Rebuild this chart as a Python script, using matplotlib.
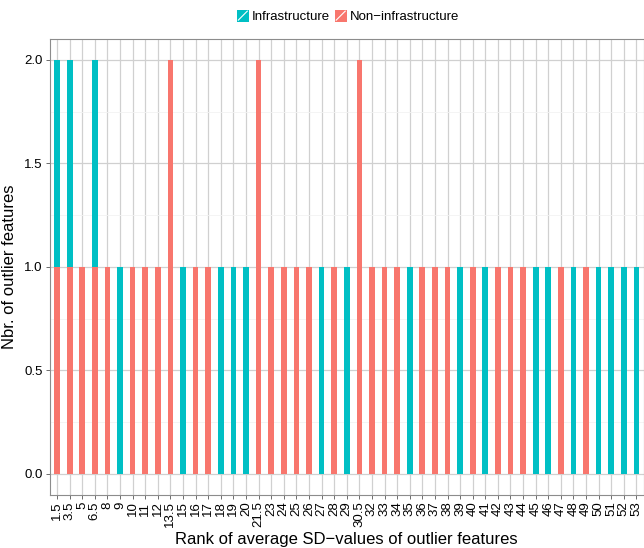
import numpy as np
import matplotlib.pyplot as plt
from matplotlib.patches import Rectangle
from matplotlib.lines import Line2D
from matplotlib.legend_handler import HandlerPatch

plt.rcParams['font.family'] = ['Liberation Sans', 'DejaVu Sans']

ranks = ['1.5', '3.5', '5', '6.5', '8', '9', '10', '11', '12', '13.5', '15', '16', '17',
         '18', '19', '20', '21.5', '23', '24', '25', '26', '27', '28', '29', '30.5', '32',
         '33', '34', '35', '36', '37', '38', '39', '40', '41', '42', '43', '44', '45', '46',
         '47', '48', '49', '50', '51', '52', '53']
infra = [1, 1, 0, 1, 0, 1, 0, 0, 0, 0, 1, 0, 0,
         1, 1, 1, 0, 0, 0, 0, 0, 1, 0, 1, 0, 0,
         0, 0, 1, 0, 0, 0, 1, 0, 1, 0, 0, 0, 1, 1,
         0, 1, 0, 1, 1, 1, 1]
non_infra = [1, 1, 1, 1, 1, 0, 1, 1, 1, 2, 0, 1, 1,
             0, 0, 0, 2, 1, 1, 1, 1, 0, 1, 0, 2, 1,
             1, 1, 0, 1, 1, 1, 0, 1, 0, 1, 1, 1, 0, 0,
             1, 0, 1, 0, 0, 0, 0]

teal = '#00BFC4'
red = '#F8766D'


class SlashHandler(HandlerPatch):
    # ggplot-like key: filled square with a white diagonal
    def create_artists(self, legend, orig_handle, xdescent, ydescent, width, height, fontsize, trans):
        s = height
        x0 = -xdescent + (width - s) / 2
        y0 = -ydescent
        r = Rectangle((x0, y0), s, s, facecolor=orig_handle.get_facecolor(),
                      edgecolor='none', transform=trans)
        ln = Line2D([x0 + 1, x0 + s - 1], [y0 + 1, y0 + s - 1], color='white', lw=0.8, transform=trans)
        return [r, ln]


fig = plt.figure(figsize=(6.44, 5.48), dpi=100)
ax = fig.add_axes([0.0769, 0.0973, 0.9231, 0.8310])

x = np.arange(len(ranks))
ax.bar(x, non_infra, width=0.45, color=red, zorder=3)
ax.bar(x, infra, width=0.45, bottom=non_infra, color=teal, zorder=3)

ax.set_xlim(-0.6, len(ranks) - 0.4)
ax.set_ylim(-0.1, 2.1)
ax.set_xticks(x)
ax.set_xticklabels(ranks, rotation=90, fontsize=9.5, va='top', ha='center')
ax.set_yticks([0, 0.5, 1.0, 1.5, 2.0])
ax.set_yticklabels(['0.0', '0.5', '1.0', '1.5', '2.0'], fontsize=9.5)
ax.set_yticks([0.25, 0.75, 1.25, 1.75], minor=True)

ax.grid(True, which='major', color='#d0d0d0', lw=0.9, zorder=0)
ax.grid(True, which='minor', axis='y', color='#f2f2f2', lw=0.6, zorder=0)
ax.tick_params(axis='both', which='major', length=3, color='#555555', width=0.6, pad=2)
ax.tick_params(axis='y', which='minor', length=0)
for sp in ax.spines.values():
    sp.set_color('#8c8c8c')
    sp.set_linewidth(0.8)

ax.set_xlabel('Rank of average SD\u2212values of outlier features', fontsize=12, labelpad=3)
ax.set_ylabel('Nbr. of outlier features', fontsize=12, labelpad=5)

handles = [Rectangle((0, 0), 1, 1, facecolor=teal), Rectangle((0, 0), 1, 1, facecolor=red)]
fig.legend(handles, ['Infrastructure', 'Non\u2212infrastructure'], loc='center',
           bbox_to_anchor=(0.54, 0.97), ncol=2, frameon=False, fontsize=9.5,
           handler_map={Rectangle: SlashHandler()}, handlelength=1.0, handleheight=1.0,
           handletextpad=0.2, columnspacing=0.3)

fig.savefig('out.png', dpi=100)
